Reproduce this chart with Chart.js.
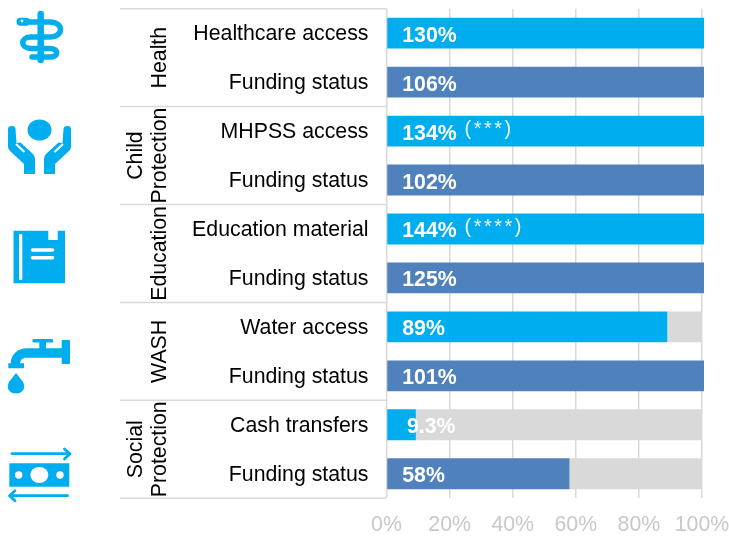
<!DOCTYPE html>
<html>
<head>
<meta charset="utf-8">
<script src="https://cdn.jsdelivr.net/npm/chart.js@4"></script>
<style>
    html, body { margin: 0; background: #fff; }
    #kutu { position: relative; width: 729px; height: 536px; overflow: hidden; }
    #kutu canvas, #kutu svg { position: absolute; left: 0; top: 0; }
</style>
</head>
<body>
<div id="kutu">
    <canvas id="grafik" width="729" height="536"></canvas>
    <svg width="729" height="536" viewBox="0 0 729 536" fill="#00AEEF">
        <!-- health -->
        <g fill="none" stroke="#00AEEF" stroke-width="5.5" stroke-linecap="round" stroke-linejoin="round">
            <path d="M40.7 14 V60" stroke-width="6.5"/>
            <path d="M21 22 H50 C64 22 64 37 50 37 H31 C20 37 20 48.5 31 48.5 H50 C59 48.5 59 57 50 57 H32"/>
            <path d="M20.5 21.7 H26" stroke-width="8"/>
        </g>
        <circle cx="22" cy="21" r="1.4" fill="#fff"/>
        <!-- child protection -->
        <ellipse cx="39.5" cy="130" rx="12" ry="10.5"/>
        <path d="M8 129 Q8 126 11.7 126 Q15.5 126 15.5 129 L16.5 143 L20.5 142.5 L33 154 Q35 156 35 159 V174 H24 V164 L10 151 Q8 149 8 147 Z"/>
        <path d="M71 129 Q71 126 67.3 126 Q63.5 126 63.5 129 L62.5 143 L58.5 142.5 L46 154 Q44 156 44 159 V174 H55 V164 L69 151 Q71 149 71 147 Z"/>
        <path d="M16 144 L24.5 152 M63 144 L54.5 152" stroke="#fff" stroke-width="2" fill="none"/>
        <!-- education -->
        <path d="M13.5 230.7 H48.3 V240 H57.7 V230.7 H65 V283.3 H13.5 Z"/>
        <rect x="19" y="234" width="3.3" height="46" rx="1" fill="#fff"/>
        <rect x="30.7" y="248.3" width="23.6" height="3.4" rx="1.7" fill="#fff"/>
        <rect x="30.7" y="256" width="23.6" height="3.4" rx="1.7" fill="#fff"/>
        <!-- wash -->
        <rect x="61.7" y="340" width="8.3" height="24" rx="1"/>
        <rect x="32.3" y="339" width="21" height="3.4" rx="1.5"/>
        <rect x="39.3" y="341" width="6.7" height="9"/>
        <path d="M62 348.3 H27 C17 348.3 11 355 10.7 363.3 H8.3 V368.3 H24 V363.3 H20 C20.5 360 22.5 357.7 26 357.7 H62 Z"/>
        <path d="M16 373 L21.5 380 C27 386 24 393.5 16 393.5 C8 393.5 5 386 10.5 380 Z"/>
        <!-- social protection -->
        <path d="M9.3 463.3 H69.3 V486.7 H9.3 Z"/>
        <ellipse cx="39.3" cy="475" rx="9" ry="8" fill="#fff"/>
        <circle cx="18.7" cy="475" r="3.7" fill="#fff"/>
        <circle cx="60" cy="475" r="3.7" fill="#fff"/>
        <g fill="none" stroke="#00AEEF" stroke-width="2.8" stroke-linecap="round" stroke-linejoin="round">
            <path d="M12 453.7 H69 M64.5 449 L70 453.7 L64.5 459"/>
            <path d="M67.5 495.7 H10 M15 490.7 L9.5 495.7 L15 500.7"/>
        </g>
    </svg>
</div>
<script>
    const kategoriler = ['Healthcare access', 'Funding status', 'MHPSS access', 'Funding status',
        'Education material', 'Funding status', 'Water access', 'Funding status',
        'Cash transfers', 'Funding status'];
    const degerler = [130, 106, 134, 102, 144, 125, 89, 101, 9.3, 58];
    const kalan = [0, 0, 0, 0, 0, 0, 11, 0, 90.7, 42];
    const etiketler = ['130%', '106%', '134%', '102%', '144%', '125%', '89%', '101%', '9.3%', '58%'];
    const notlar = ['', '', '(***)', '', '(****)', '', '', '', '', ''];
    const gruplar = [['Health'], ['Child', 'Protection'], ['Education'], ['WASH'], ['Social', 'Protection']];
    const eksenTikleri = [0, 20, 40, 60, 80, 100];
    const renkler = ['#00AEEF', '#4F81BD', '#00AEEF', '#4F81BD', '#00AEEF',
        '#4F81BD', '#00AEEF', '#4F81BD', '#00AEEF', '#4F81BD'];

    const yazi = 'Liberation Sans, Arial, sans-serif';

    // group labels and separator lines left of the bars
    const grupEksen = {
        id: 'grupEksen',
        afterDraw(chart) {
            const ctx = chart.ctx;
            const y = chart.scales.y;
            const sol = chart.chartArea.left;
            ctx.save();
            ctx.strokeStyle = '#D9D9D9';
            ctx.lineWidth = 1.5;
            for (let i = 0; i <= gruplar.length; i++) {
                const py = y.getPixelForValue(i * 2 - 0.5);
                ctx.beginPath();
                ctx.moveTo(120, py);
                ctx.lineTo(sol, py);
                ctx.stroke();
            }
            ctx.fillStyle = '#000';
            ctx.font = '21.3px ' + yazi;
            ctx.textAlign = 'center';
            ctx.textBaseline = 'alphabetic';
            gruplar.forEach((satirlar, i) => {
                const orta = y.getPixelForValue(i * 2 + 0.5);
                satirlar.forEach((metin, j) => {
                    const taban = 166 - (satirlar.length - 1 - j) * 24;
                    ctx.save();
                    ctx.translate(taban, orta);
                    ctx.rotate(-Math.PI / 2);
                    ctx.fillText(metin, 0, 0);
                    ctx.restore();
                });
            });
            ctx.restore();
        }
    };

    // value labels inside the bars
    const degerYazilari = {
        id: 'degerYazilari',
        afterDatasetsDraw(chart) {
            const ctx = chart.ctx;
            const x = chart.scales.x;
            const y = chart.scales.y;
            ctx.save();
            ctx.fillStyle = '#fff';
            ctx.textAlign = 'left';
            ctx.textBaseline = 'alphabetic';
            etiketler.forEach((metin, i) => {
                const py = y.getPixelForValue(i);
                const px = x.getPixelForValue(degerler[i] < 10 ? 6.5 : 5);
                ctx.font = 'bold 21.3px ' + yazi;
                ctx.fillText(metin, px, py + 8.5);
                if (notlar[i]) {
                    ctx.font = '20px ' + yazi;
                    ctx.letterSpacing = '2.5px';
                    ctx.fillStyle = 'rgba(255, 255, 255, 0.9)';
                    ctx.fillText(notlar[i], 464.5, py + 4);
                    ctx.fillStyle = '#fff';
                    ctx.letterSpacing = '0px';
                }
            });
            ctx.restore();
        }
    };

    function sifirPadding(scale) {
        scale.paddingLeft = 0;
        scale.paddingRight = 0;
        scale.paddingTop = 0;
        scale.paddingBottom = 0;
    }

    const grf = document.getElementById('grafik').getContext('2d');

    new Chart(grf, {
        type: 'bar',
        data: {
            labels: kategoriler,
            datasets: [{
                label: 'Value',
                data: degerler,
                backgroundColor: renkler,
                borderWidth: 0,
                barPercentage: 0.63,
                categoryPercentage: 1
            }, {
                label: 'Remainder',
                data: kalan,
                backgroundColor: '#D9D9D9',
                borderWidth: 0,
                barPercentage: 0.63,
                categoryPercentage: 1
            }]
        },
        options: {
            indexAxis: 'y',
            responsive: false,
            animation: false,
            layout: { padding: { top: 8.7, right: 25, left: 0, bottom: 0 } },
            plugins: {
                legend: { display: false },
                title: { display: false },
                tooltip: { enabled: false }
            },
            scales: {
                x: {
                    stacked: true,
                    min: 0,
                    max: 100.63,
                    afterFit(scale) { scale.height = 37.8; sifirPadding(scale); },
                    afterBuildTicks(scale) { scale.ticks = eksenTikleri.map(value => ({ value })); },
                    border: { display: false },
                    grid: { color: '#D9D9D9', lineWidth: 1.5, drawTicks: false },
                    ticks: {
                        maxRotation: 0,
                        autoSkip: false,
                        includeBounds: false,
                        padding: 14.5,
                        color: '#C8C8C8',
                        font: { family: yazi, size: 21.3 },
                        callback: value => value + '%'
                    }
                },
                y: {
                    stacked: true,
                    afterFit(scale) { scale.width = 386.5; sifirPadding(scale); },
                    border: { display: false },
                    grid: { display: false, drawTicks: false },
                    ticks: {
                        autoSkip: false,
                        padding: 18,
                        labelOffset: 1,
                        color: '#000',
                        font: { family: yazi, size: 21.3 }
                    }
                }
            }
        },
        plugins: [grupEksen, degerYazilari]
    });
</script>
</body>
</html>
